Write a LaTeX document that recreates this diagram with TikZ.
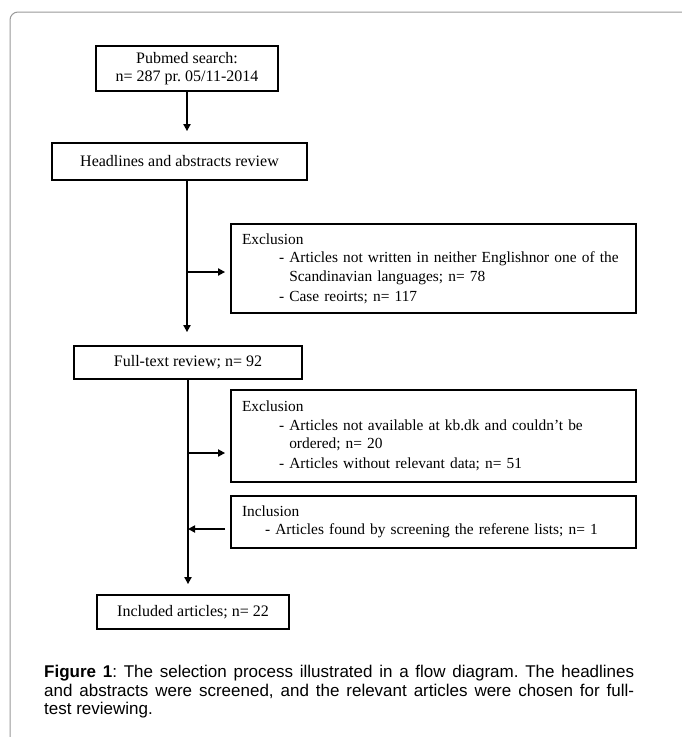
\documentclass[tikz,border=0pt]{standalone}
\usepackage{fontspec}
\setmainfont{Liberation Serif}
\newfontfamily\capfont{Liberation Sans}
\usetikzlibrary{arrows.meta}
\frenchspacing
\begin{document}
\begin{tikzpicture}[x=1pt,y=-1pt,
  box/.style={draw, line width=1.8pt, inner sep=0pt, align=center,
    font=\fontsize{16}{18}\selectfont},
  lbox/.style={draw, line width=1.8pt, inner xsep=11pt, inner ysep=0pt,
    text width=383pt, align=left, font=\fontsize{15.4}{18.5}\selectfont},
  arr/.style={line width=1.8pt, -{Triangle[length=7pt,width=7pt]}},
  frame/.style={draw=black!40, line width=1pt, rounded corners=8pt}
]
\useasboundingbox[fill=white] (0,0) rectangle (681,737);
\draw[frame] (690,12) -- (10,12) -- (10,745);

\node[box, minimum width=182pt, minimum height=45pt] (pub) at (187,68.5)
  {Pubmed search:\\ n= 287 pr. 05/11-2014};
\node[box, minimum width=255pt, minimum height=37pt] (head) at (179.5,161.5)
  {Headlines and abstracts review};
\node[lbox, minimum height=89pt] (ex1) at (433.5,268.5)
  {Exclusion\\
   \hspace*{37pt}\mbox{- Articles not written in neither Englishnor one of the}\\
   \hspace*{37pt}\phantom{- }Scandinavian languages; n= 78\\[1.5pt]
   \hspace*{37pt}- Case reoirts; n= 117};
\node[box, minimum width=228pt, minimum height=33pt] (full) at (188,362.5)
  {Full-text review; n= 92};
\node[lbox, minimum height=92pt] (ex2) at (433.5,436)
  {Exclusion\\
   \hspace*{37pt}\mbox{- Articles not available at kb.dk and couldn’t be}\\
   \hspace*{37pt}\phantom{- }ordered; n= 20\\[1.5pt]
   \hspace*{37pt}\mbox{- Articles without relevant data; n= 51}};
\node[lbox, minimum height=52pt] (inc) at (433.5,522)
  {Inclusion\\
   \hspace*{23pt}\mbox{- Articles found by screening the referene lists; n= 1}};
\node[box, minimum width=192pt, minimum height=34pt] (incd) at (193,612)
  {Included articles; n= 22};

\coordinate (t1) at (pub.south |- head.south);
\coordinate (b1) at (188,272);
\coordinate (b2) at (188,453);
\coordinate (b3) at (188,529);

\draw[arr, shorten >=11pt] (pub.south) -- (pub.south |- head.north);
\draw[arr, shorten >=13pt] (t1) -- (t1 |- full.north);
\draw[arr, shorten >=5pt] (b1) -- (b1 -| ex1.west);
\draw[arr, shorten >=10pt] (full.south) -- (full.south |- incd.north);
\draw[arr, shorten >=5pt] (b2) -- (b2 -| ex2.west);
\draw[arr, shorten <=5pt] (b3 -| inc.west) -- (b3);

\node[anchor=north west, inner sep=0pt, text width=590pt, align=justify,
  font=\capfont\fontsize{17}{18.5}\selectfont] (cap) at (44,665)
  {\textbf{Figure 1}: The selection process illustrated in a flow diagram. The headlines\linebreak
   and abstracts were screened, and the relevant articles were chosen for full-\linebreak
   test reviewing.};
\end{tikzpicture}
\end{document}
